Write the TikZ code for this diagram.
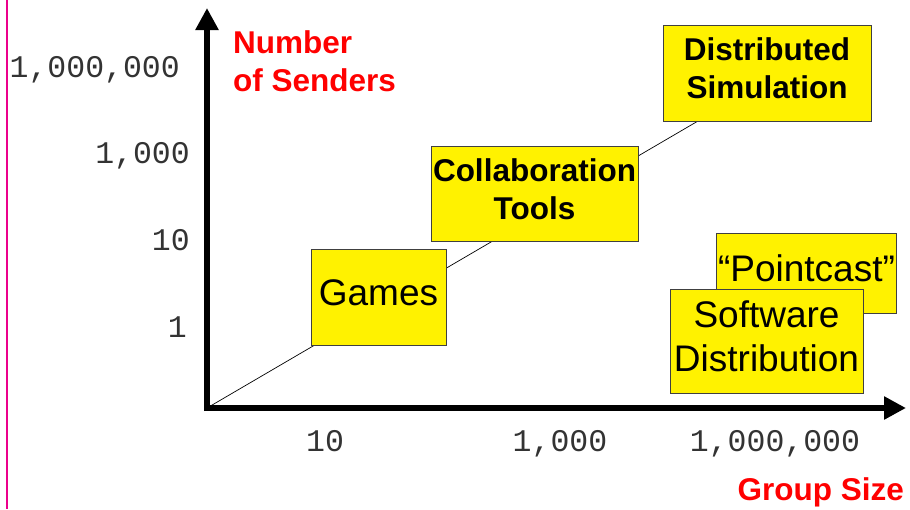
\documentclass[tikz,border=0pt]{standalone}
\usepackage{fontspec}
\setmainfont{Liberation Sans}
\newfontfamily\tickfont{Liberation Mono}
\usetikzlibrary{arrows.meta,positioning,calc}

\begin{document}
\begin{tikzpicture}[
  x=1pt, y=-1pt,
  usecase/.style={rectangle, draw=black!75, fill=yellow, line width=1pt, inner sep=2pt, align=center, text depth=9pt, font=\fontsize{37}{44}\selectfont},
  bigcase/.style={usecase, font=\fontsize{31.5}{38}\selectfont\bfseries},
  axislabel/.style={text=red, font=\fontsize{31.5}{38}\selectfont\bfseries, inner sep=0pt},
  tick/.style={text=black!80, font=\fontsize{31.5}{32}\tickfont, inner sep=0pt},
  axis/.style={line width=6pt, -{Triangle[length=22pt,width=22pt]}}
]
\useasboundingbox (0,0) rectangle (910,509);
\draw[magenta, line width=1.5pt] (7,0) -- (7,509);

% axes
\coordinate (origin) at (207,408);
\coordinate (ytop) at (207,8);
\coordinate (xend) at (906,408);
\draw[axis] ($(origin)+(0,3)$) -- (ytop);
\draw[axis] ($(origin)+(-3,0)$) -- (xend);

% trend line, under the boxes
\coordinate (trendend) at (698,121);
\draw[line width=0.7pt] (origin) -- (trendend);

% boxes
\node[usecase, minimum width=135pt, minimum height=96pt] (games) at (378.5,297) {Games};
\node[bigcase, minimum width=207pt, minimum height=95pt] (collab) at (534.5,193.5) {Collaboration\\Tools};
\node[bigcase, minimum width=208pt, minimum height=96pt] (dist) at (767,73) {Distributed\\Simulation};
\node[usecase, minimum width=177pt, minimum height=80pt] (push) at (806.5,273) {``Pointcast''};
\node[usecase, minimum width=193pt, minimum height=104pt] (soft) at (766.5,341) {Software\\Distribution};

% axis titles
\node[axislabel, align=left, anchor=west] (senders) at (233,61) {Number\\of Senders};
\node[axislabel, anchor=base east] (gsize) at (904,500) {Group Size};

% tick labels
\node[tick, anchor=base east] (y4) at (180,77) {1,000,000};
\node[tick, anchor=base east] (y3) at (190,163) {1,000};
\node[tick, anchor=base east] (y2) at (190,250) {10};
\node[tick, anchor=base east] (y1) at (187,337) {1};
\node[tick, anchor=base] (x1) at (325,451) {10};
\node[tick, anchor=base] (x2) at (560,451) {1,000};
\node[tick, anchor=base] (x3) at (775,451) {1,000,000};
\end{tikzpicture}
\end{document}
